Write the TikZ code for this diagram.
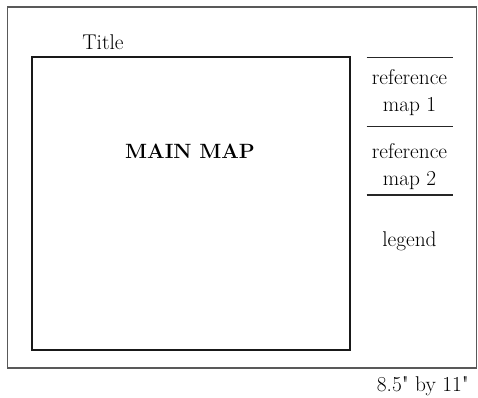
\documentclass[tikz,border=0pt]{standalone}
\usepackage{tikz}
\usetikzlibrary{positioning}

\begin{document}
\begin{tikzpicture}[
    x=0.75pt, y=-0.75pt,
    txt/.style={font=\fontsize{16}{20.5}\selectfont, align=center, inner sep=0pt},
    page/.style={draw=black!65, line width=0.8pt},
    mapbox/.style={draw=black!90, line width=1.5pt},
    rule/.style={draw=black!85, line width=1.1pt}
]
    \useasboundingbox (0,0) rectangle (478,398);

    % page and main map
    \draw[page] (7.3,7) rectangle (476.8,368);
    \draw[mapbox] (32,57.3) rectangle (350,350);
    \node[txt, anchor=base] (title) at (103,50) {Title};
    \node[txt, anchor=base, font=\fontsize{15.5}{20.5}\selectfont\bfseries] (mainmap) at (190,158.3) {MAIN MAP};

    % side panel
    \coordinate (r1w) at (366.7,57.3);   \coordinate (r1e) at (453,57.3);
    \coordinate (r2w) at (366.7,126.7);  \coordinate (r2e) at (453,126.7);
    \coordinate (r3w) at (366.7,195);    \coordinate (r3e) at (453,195);
    \draw[rule] (r1w) -- (r1e);
    \draw[rule] (r2w) -- (r2e);
    \draw[rule] (r3w) -- (r3e);
    \node[txt] (ref1) at (409.5,92.8) {reference\\map 1};
    \node[txt] (ref2) at (409.5,166.8) {reference\\map 2};
    \node[txt, anchor=base] (legend) at (409.5,246.7) {legend};

    \node[txt, anchor=base east] (size) at (469,391.7) {8.5\textquotedbl{} by 11\textquotedbl};
\end{tikzpicture}
\end{document}
